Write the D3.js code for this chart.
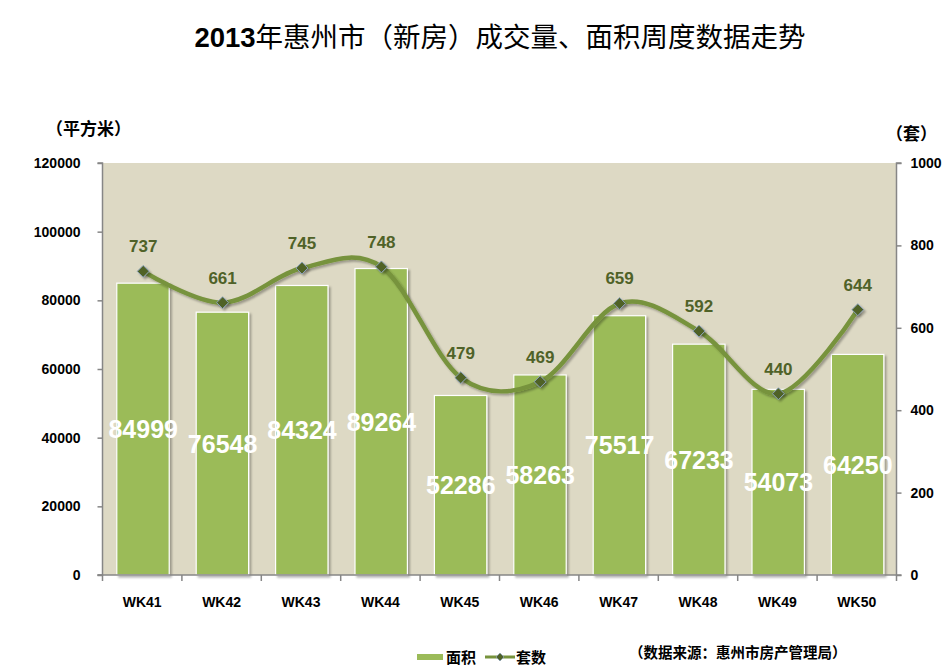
<!DOCTYPE html>
<html><head><meta charset="utf-8">
<script src="https://cdn.jsdelivr.net/npm/d3@7"></script>
<style>body{margin:0;background:#fff}svg{display:block}</style>
</head><body>
<script>
const categories = ["WK41","WK42","WK43","WK44","WK45","WK46","WK47","WK48","WK49","WK50"];
const areaValues = [84999,76548,84324,89264,52286,58263,75517,67233,54073,64250];
const unitValues = [737,661,745,748,479,469,659,592,440,644];
const leftTicks = [0,20000,40000,60000,80000,100000,120000];
const rightTicks = [0,200,400,600,800,1000];

const W=951,H=670;
const m={l:102.5,r:896.5,t:163,b:575};
const svg=d3.select("body").append("svg").attr("width",W).attr("height",H);
const defs=svg.append("defs");
const f=defs.append("filter").attr("id","sh").attr("x","-20%").attr("y","-20%").attr("width","150%").attr("height","150%");
f.append("feDropShadow").attr("dx",2).attr("dy",2).attr("stdDeviation",1.2).attr("flood-color","#000").attr("flood-opacity",0.3);

const x=d3.scaleBand().domain(categories).range([m.l,m.r]).paddingInner(0.34).paddingOuter(0.17);
const xPos=d3.scaleBand().domain(categories).range([m.l,m.r]);
const yL=d3.scaleLinear().domain([0,120000]).range([m.b,m.t]);
const yR=d3.scaleLinear().domain([0,1000]).range([m.b,m.t]);

const latin="'Liberation Sans', Arial, sans-serif";
const cjk="'Noto Sans CJK SC', sans-serif";

// title
const title=svg.append("text").attr("x",500).attr("y",47).attr("text-anchor","middle")
  .style("font-size","27.5px").attr("fill","#000");
title.append("tspan").text("2013").style("font-weight","bold").style("font-family",latin);
title.append("tspan").text("年惠州市（新房）成交量、面积周度数据走势").style("font-family",cjk);

// plot bg
svg.append("rect").attr("x",m.l).attr("y",m.t).attr("width",m.r-m.l).attr("height",m.b-m.t).attr("fill","#ddd9c4");

// bars
svg.append("g").selectAll("rect").data(categories).join("rect")
  .attr("x",(d,i)=>xPos(d)+xPos.bandwidth()/2 - x.bandwidth()/2 + 0.8)
  .attr("y",(d,i)=>yL(areaValues[i]))
  .attr("width",x.bandwidth()).attr("height",(d,i)=>m.b-yL(areaValues[i]))
  .attr("fill","#9bbb59").attr("stroke","#fff").attr("stroke-width",1.2)
  .attr("filter","url(#sh)");

// axes
const axisColor="#868686";
const gl=svg.append("g").attr("transform",`translate(${m.l},0)`)
  .call(d3.axisLeft(yL).tickValues(leftTicks).tickSize(5).tickPadding(17).tickFormat(d3.format("d")));
const gr=svg.append("g").attr("transform",`translate(${m.r},0)`)
  .call(d3.axisRight(yR).tickValues(rightTicks).tickSize(5).tickPadding(9).tickFormat(d3.format("d")));
const gb=svg.append("g").attr("transform",`translate(0,${m.b})`)
  .call(d3.axisBottom(xPos).tickSize(0).tickPadding(22));
[gl,gr,gb].forEach(g=>{
  g.select(".domain").attr("stroke",axisColor).attr("stroke-width",1.5);
  g.selectAll(".tick line").attr("stroke",axisColor).attr("stroke-width",1.5);
  g.selectAll("text").style("font-family",latin).style("font-size","14px").style("font-weight","bold").attr("fill","#000");
});
gl.select(".domain").attr("d",`M-5,${m.t}H0V${m.b}H-5`);
gr.select(".domain").attr("d",`M5,${m.t}H0V${m.b}H5`);
gb.select(".domain").attr("d",`M${m.l-5},0H${m.r}`);
gb.append("g").selectAll("line").data(d3.range(categories.length+1)).join("line")
  .attr("x1",i=>m.l+i*xPos.step()).attr("x2",i=>m.l+i*xPos.step())
  .attr("y1",0).attr("y2",6).attr("stroke",axisColor).attr("stroke-width",1.5);

// bar labels
svg.append("g").selectAll("text").data(categories).join("text")
  .attr("x",d=>xPos(d)+xPos.bandwidth()/2+1)
  .attr("y",(d,i)=>(yL(areaValues[i])+m.b)/2+9)
  .attr("text-anchor","middle").text((d,i)=>areaValues[i])
  .style("font-family",latin).style("font-size","25px").style("font-weight","bold").attr("fill","#fff");

// line
const pts=categories.map((d,i)=>[xPos(d)+xPos.bandwidth()/2+1,yR(unitValues[i])]);
svg.append("path").attr("d",d3.line().curve(d3.curveCardinal.tension(0))(pts))
  .attr("fill","none").attr("stroke","#77933c").attr("stroke-width",4.5).attr("filter","url(#sh)");
const dsym=d3.symbol().type(d3.symbolDiamond2).size(90);
svg.append("g").selectAll("path").data(pts).join("path")
  .attr("transform",p=>`translate(${p[0]},${p[1]})`).attr("d",dsym)
  .attr("fill","#4f6228").attr("stroke","#8aa0b8").attr("stroke-width",1).attr("filter","url(#sh)");
svg.append("g").selectAll("text").data(pts).join("text")
  .attr("x",p=>p[0]).attr("y",p=>p[1]-19).attr("text-anchor","middle")
  .text((p,i)=>unitValues[i])
  .style("font-family",latin).style("font-size","17px").style("font-weight","bold").attr("fill","#4f6228");

// unit labels
svg.append("text").attr("x",46).attr("y",135).text("（平方米）")
  .style("font-family",cjk).style("font-size","17px").style("font-weight","bold");
svg.append("text").attr("x",886).attr("y",140).text("（套）")
  .style("font-family",cjk).style("font-size","17px").style("font-weight","bold");

// legend
svg.append("rect").attr("x",417).attr("y",654).attr("width",26).attr("height",6).attr("fill","#9bbb59");
svg.append("text").attr("x",446).attr("y",663).text("面积")
  .style("font-family",cjk).style("font-size","15px").style("font-weight","bold");
svg.append("line").attr("x1",485).attr("x2",515).attr("y1",657).attr("y2",657).attr("stroke","#77933c").attr("stroke-width",3);
svg.append("path").attr("transform","translate(500,657)").attr("d",d3.symbol().type(d3.symbolDiamond2).size(40))
  .attr("fill","#4f6228").attr("stroke","#8aa0b8").attr("stroke-width",0.8);
svg.append("text").attr("x",516).attr("y",663).text("套数")
  .style("font-family",cjk).style("font-size","15px").style("font-weight","bold");
svg.append("text").attr("x",629).attr("y",658).text("（数据来源：惠州市房产管理局）")
  .style("font-family",cjk).style("font-size","14.5px").style("font-weight","bold");
</script>
</body></html>
